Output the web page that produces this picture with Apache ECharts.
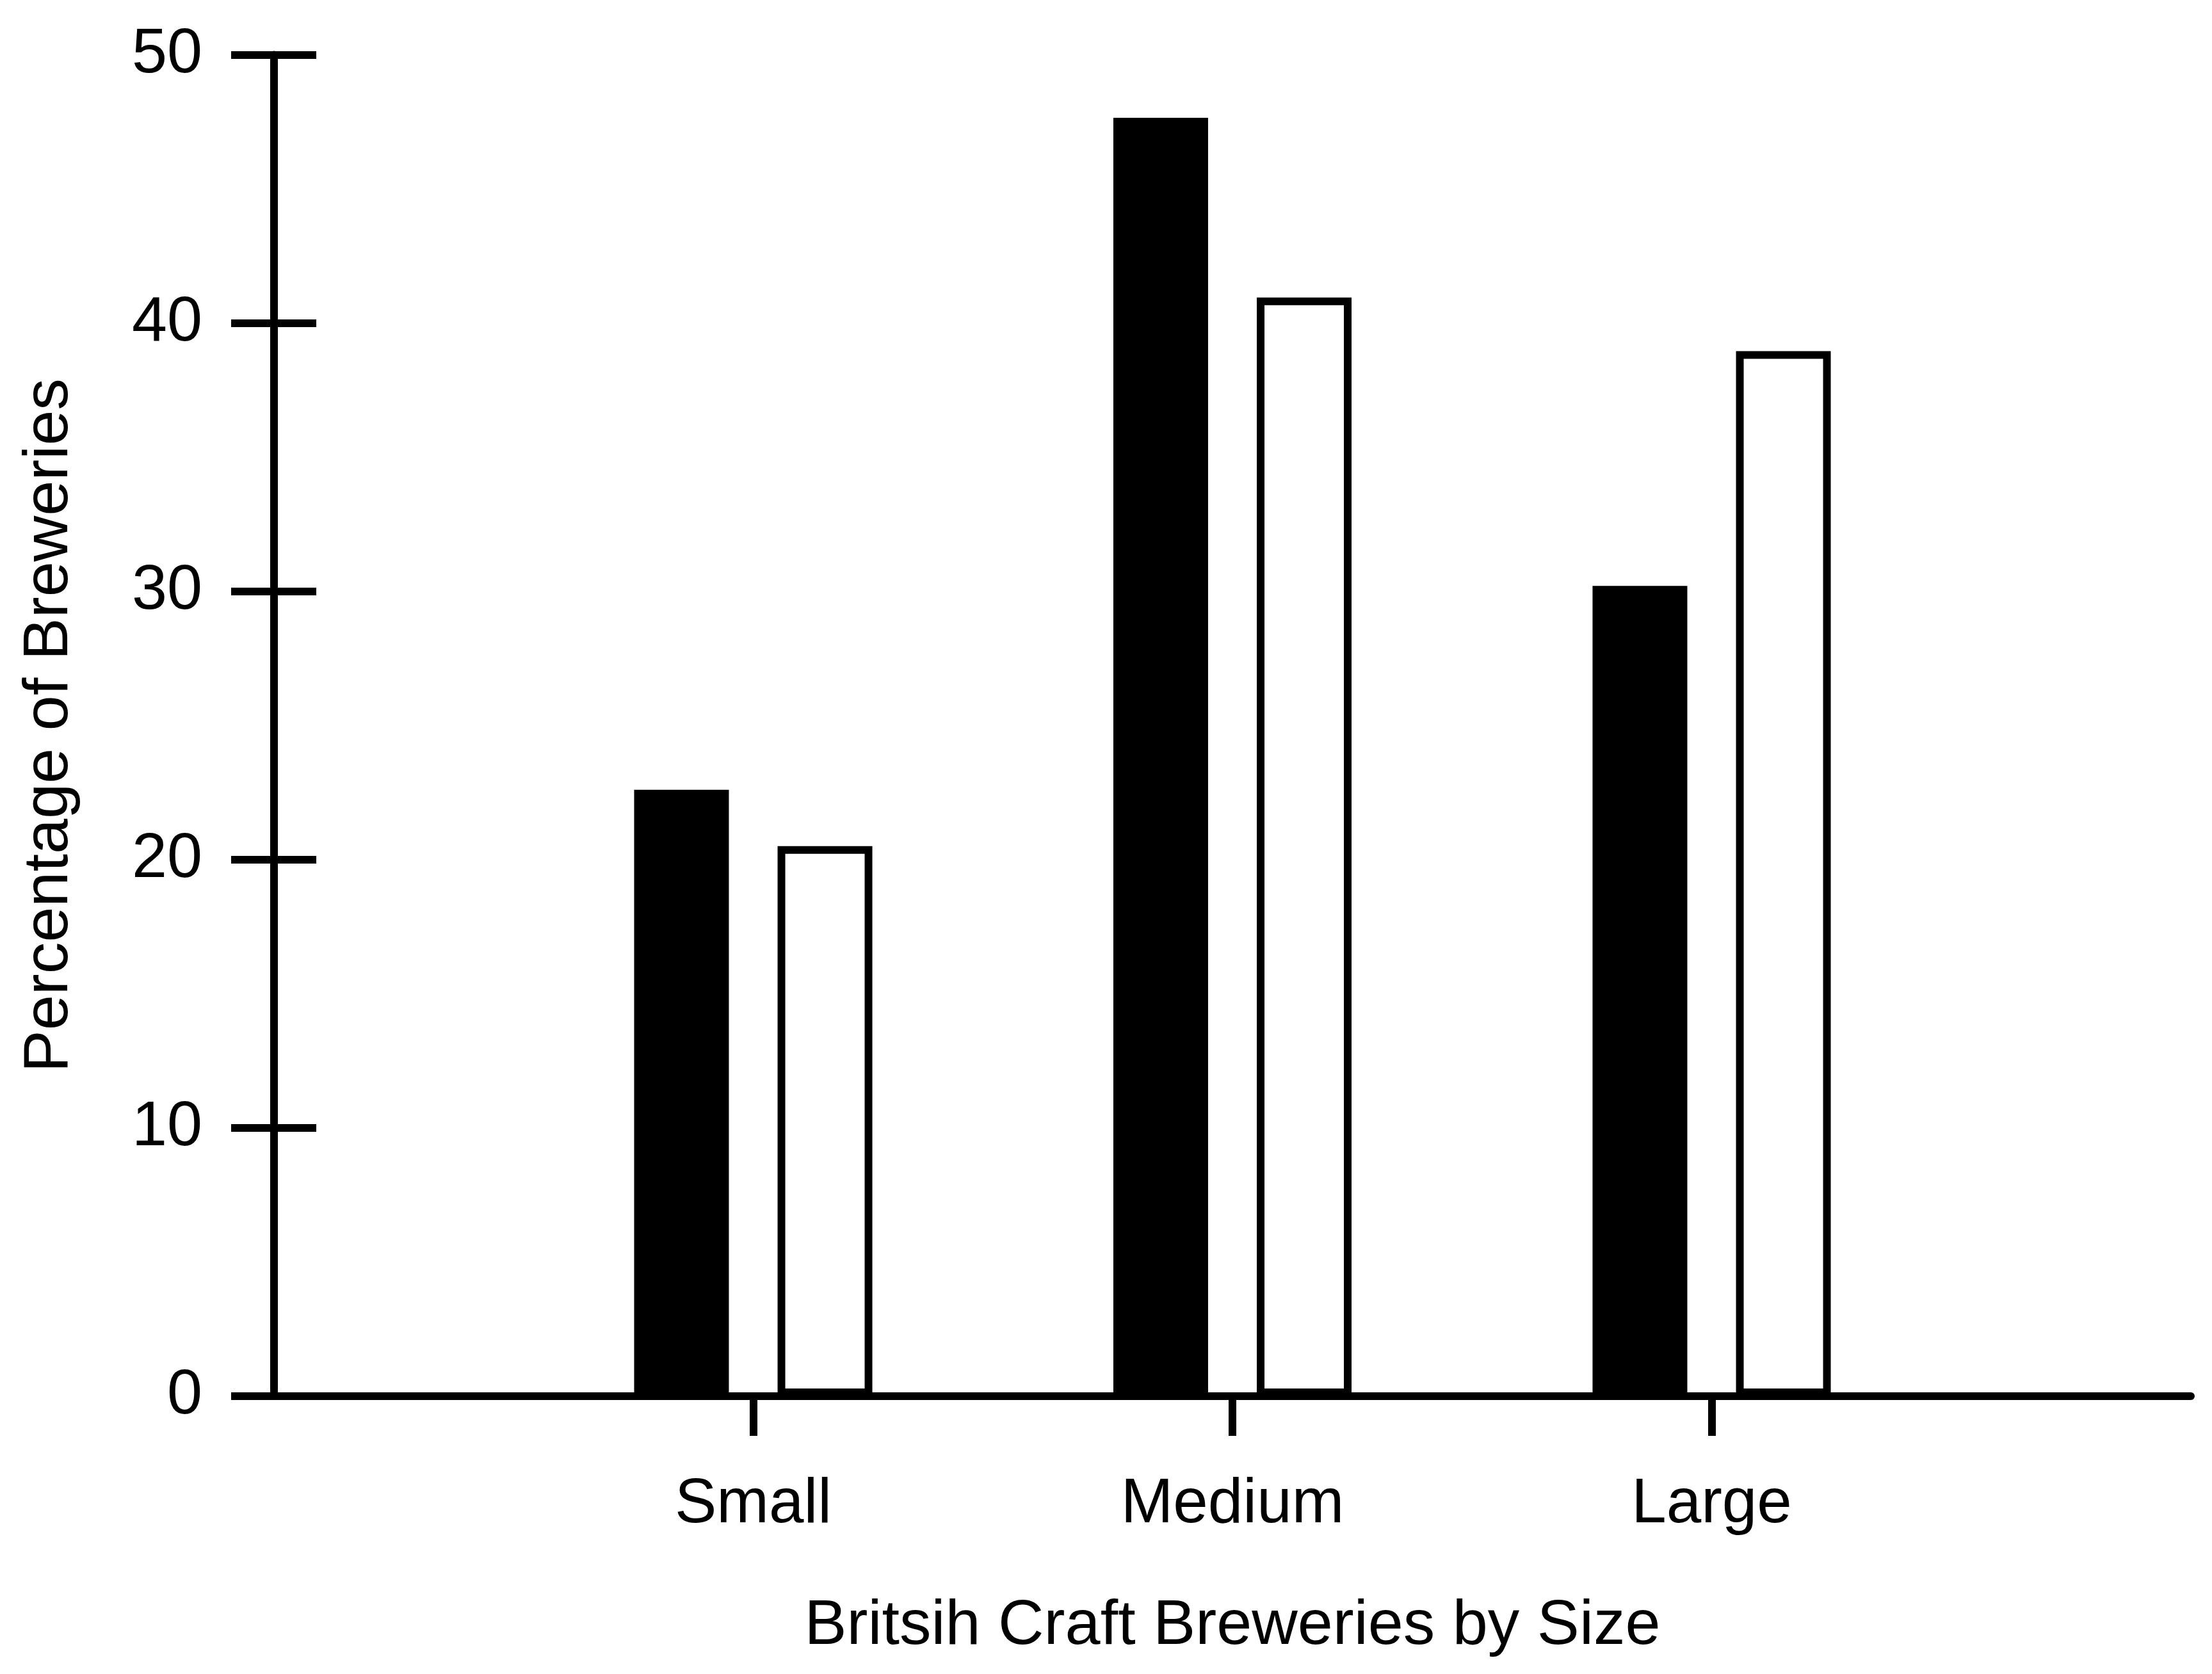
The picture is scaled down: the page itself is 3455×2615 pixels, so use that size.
<!DOCTYPE html>
<html>
<head>
<meta charset="utf-8">
<title>British Craft Breweries by Size</title>
<script src="https://cdn.jsdelivr.net/npm/echarts/dist/echarts.min.js"></script>
<style>
    html, body { margin: 0; padding: 0; background: #fff; }
    #size_chart { width: 3455px; height: 2615px; }
</style>
</head>
<body>
<div id="size_chart"></div>
<script>
// categories and the two series
var sizeLabels = ['Small', 'Medium', 'Large'];
var filledValues = [22.6, 47.65, 30.2];
var openValues = [20.5, 40.95, 38.95];
var yTicks = [0, 10, 20, 30, 40, 50];

// empty slots at both ends keep the groups off the axes
var axisCats = [''].concat(sizeLabels, ['']);
function pad(arr) {
    return ['-'].concat(arr, ['-']);
}

var fontName = '"Liberation Sans", Arial, sans-serif';
var ink = '#000';

var sizeChart = echarts.init(document.getElementById('size_chart'));

var option = {
    backgroundColor: '#fff',
    animation: false,
    grid: {
        left: 428,
        right: 33,
        top: 85.5,
        bottom: 434,
        containLabel: false,
        outerBoundsMode: 'none'
    },
    xAxis: {
        type: 'category',
        data: axisCats,
        boundaryGap: false,
        name: 'Britsih Craft Breweries by Size',
        nameLocation: 'middle',
        nameGap: 310,
        nameTextStyle: {
            color: ink,
            fontFamily: fontName,
            fontSize: 99
        },
        axisLine: {
            lineStyle: { color: ink, width: 12 }
        },
        axisTick: {
            length: 62,
            interval: function (index, value) {
                return value !== '';
            },
            lineStyle: { color: ink, width: 12 }
        },
        axisLabel: {
            interval: 0,
            margin: 121,
            color: ink,
            fontFamily: fontName,
            fontSize: 98
        },
        splitLine: { show: false }
    },
    yAxis: [{
        type: 'value',
        position: 'left',
        min: yTicks[0],
        max: yTicks[yTicks.length - 1],
        interval: 10,
        name: 'Percentage of Breweries',
        nameLocation: 'middle',
        nameGap: 301,
        nameTextStyle: {
            color: ink,
            fontFamily: fontName,
            fontSize: 99
        },
        axisLine: {
            show: true,
            lineStyle: { color: ink, width: 12 }
        },
        axisTick: {
            show: true,
            length: 67,
            lineStyle: { color: ink, width: 12 }
        },
        axisLabel: {
            margin: 112,
            color: ink,
            fontFamily: fontName,
            fontSize: 99
        },
        splitLine: { show: false }
    }, {
        // second copy only draws the inner half of the crossing ticks
        type: 'value',
        position: 'left',
        min: yTicks[0],
        max: yTicks[yTicks.length - 1],
        interval: 10,
        axisLine: { show: false },
        axisTick: {
            show: true,
            inside: true,
            length: 66,
            lineStyle: { color: ink, width: 12 }
        },
        axisLabel: { show: false },
        splitLine: { show: false }
    }],
    series: [{
        name: 'Filled',
        type: 'bar',
        data: pad(filledValues),
        barWidth: 148,
        barGap: '51.4%',
        itemStyle: {
            color: ink,
            borderColor: ink,
            borderWidth: 12
        }
    }, {
        name: 'Open',
        type: 'bar',
        data: pad(openValues),
        barWidth: 148,
        itemStyle: {
            color: '#fff',
            borderColor: ink,
            borderWidth: 12
        }
    }]
};

sizeChart.setOption(option);

window.addEventListener('resize', function () {
    if (sizeChart != null && sizeChart != undefined) {
        sizeChart.resize();
    }
});
</script>
</body>
</html>
